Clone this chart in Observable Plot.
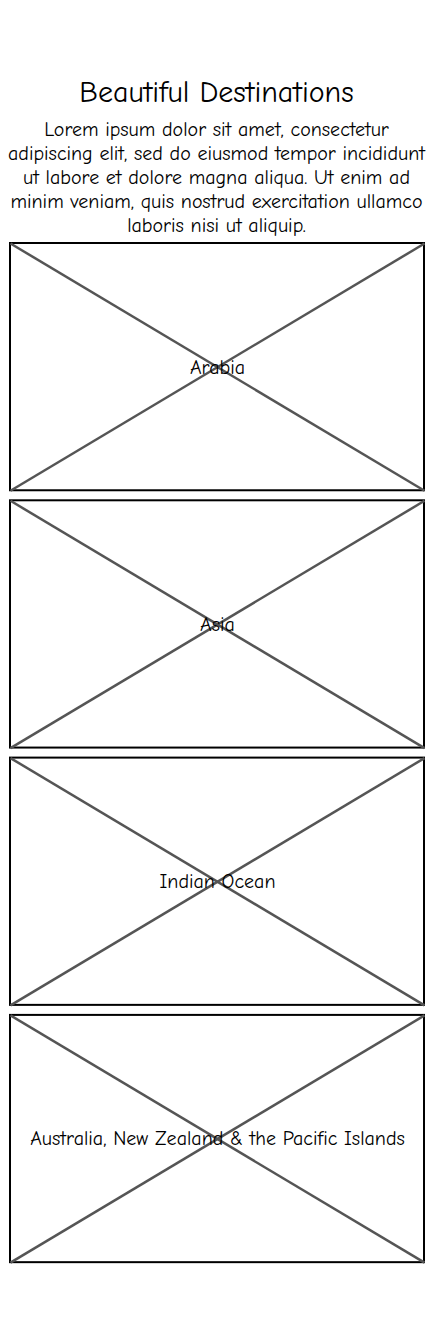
<!DOCTYPE html>
<html>
<head>
<meta charset="utf-8">
<script src="https://cdn.jsdelivr.net/npm/d3@7"></script>
<script src="https://cdn.jsdelivr.net/npm/@observablehq/plot@0.6"></script>
<style>
  body { margin: 0; background: #fff; font-family: "Comic Neue", "Lato", sans-serif; color: #000; }
  #head { height: 240px; box-sizing: border-box; padding-top: 76px; text-align: center; }
  #head h1 { margin: 0 0 8px 0; font-size: 30px; font-weight: 500; line-height: 34px; }
  #head p { margin: 0 4px; font-size: 20px; line-height: 24px; }
  #chart svg { display: block; }
</style>
</head>
<body>
<div id="head">
  <h1>Beautiful Destinations</h1>
  <p>Lorem ipsum dolor sit amet, consectetur adipiscing elit, sed do eiusmod tempor incididunt ut labore et dolore magna aliqua. Ut enim ad minim veniam, quis nostrud exercitation ullamco laboris nisi ut aliquip.</p>
</div>
<div id="chart"></div>
<script>
  const destinations = ["Arabia", "Asia", "Indian Ocean", "Australia, New Zealand & the Pacific Islands"];

  const boxes = destinations.map((name, i) => ({name, top: i, bottom: i + 0.961}));

  let chart = Plot.plot({
    width: 433,
    height: 1088,
    x: {domain: [0, 1], range: [10, 424], axis: null},
    y: {domain: [0, 4], range: [3, 3 + 4 * 257.3], axis: null},
    marks: [
      Plot.rect(boxes, {x1: 0, x2: 1, y1: "top", y2: "bottom", fill: "white", stroke: "black", strokeWidth: 2}),
      Plot.link(boxes, {x1: 0, y1: "top", x2: 1, y2: "bottom", stroke: "#555", strokeWidth: 2.5}),
      Plot.link(boxes, {x1: 0, y1: "bottom", x2: 1, y2: "top", stroke: "#555", strokeWidth: 2.5}),
      Plot.text(boxes, {x: 0.5, y: d => (d.top + d.bottom) / 2, text: "name", fontSize: 20, fill: "black", fontFamily: "'Comic Neue', Lato, sans-serif"})
    ]
  });

  d3.select('#chart').append(() => chart);
</script>
</body>
</html>
